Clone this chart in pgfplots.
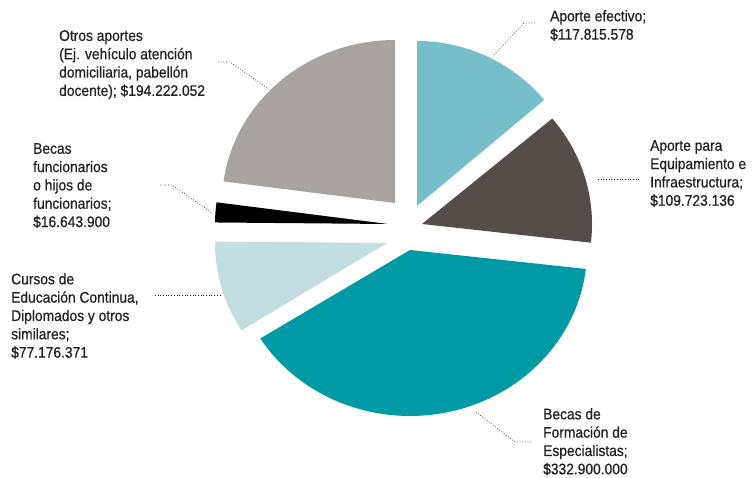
\documentclass[border=0pt]{standalone}
\usepackage{fontspec}
\setmainfont{Liberation Sans}[FakeStretch=0.9, FakeBold=0.6]
\usepackage{pgfplots}
\pgfplotsset{compat=1.18}
\definecolor{cA}{HTML}{76BFC8}
\definecolor{cB}{HTML}{554D4A}
\definecolor{cC}{HTML}{009AA6}
\definecolor{cD}{HTML}{C3DEE2}
\definecolor{cE}{HTML}{000000}
\definecolor{cF}{HTML}{A8A3A0}
\definecolor{txt}{HTML}{231F20}
\newcommand{\lab}{\fontsize{15.4}{18.4}\selectfont\color{txt}}
% values in millions of pesos
\def\vA{117.815578}
\def\vB{109.723136}
\def\vC{332.900000}
\def\vD{77.176371}
\def\vE{16.643900}
\def\vF{194.222052}
\pgfmathsetmacro\T{\vA+\vB+\vC+\vD+\vE+\vF}
\pgfmathsetmacro\aA{90}
\pgfmathsetmacro\aB{\aA-\vA/\T*360}
\pgfmathsetmacro\aC{\aB-\vB/\T*360}
\pgfmathsetmacro\aD{\aC-\vC/\T*360}
\pgfmathsetmacro\aE{\aD-\vD/\T*360}
\pgfmathsetmacro\aF{\aE-\vE/\T*360}
\pgfmathsetmacro\aG{\aF-\vF/\T*360}
\newcommand{\slice}[7]{% color, start, end, cx, cy, rx, ry
  \addplot[fill=#1, draw=none, domain=#3:#2, samples=90, variable=\t]
    ({#4+#6*cos(\t)}, {#5+#7*sin(\t)}) -- (axis cs:#4,#5) -- cycle;
}
\begin{document}
\begin{tikzpicture}
\begin{axis}[hide axis, scale only axis, width=752bp, height=478bp,
  xmin=0, xmax=752, ymin=0, ymax=478, clip=false]
\addplot[draw=none] coordinates {(0,0) (752,478)};
\slice{cA}{\aA}{\aB}{417}{272}{166}{165}
\slice{cB}{\aB}{\aC}{422}{254}{170}{164}
\slice{cC}{\aC}{\aD}{410}{228}{177}{166}
\slice{cD}{\aD}{\aE}{387}{235}{172}{164}
\slice{cE}{\aE}{\aF}{388}{254}{173}{164}
\slice{cF}{\aF}{\aG}{395}{275}{173}{163}
% leader lines
\addplot[dotted, line width=0.7pt, color=txt] coordinates {(494,423) (524,455) (536,455)};
\addplot[dotted, line width=0.7pt, color=txt] coordinates {(598,299) (641,299)};
\addplot[dotted, line width=0.7pt, color=txt] coordinates {(476,66) (515,36) (532,36)};
\addplot[dotted, line width=0.7pt, color=txt] coordinates {(155,183) (220,183)};
\addplot[dotted, line width=0.7pt, color=txt] coordinates {(160,293) (172,293) (212,265)};
\addplot[dotted, line width=0.7pt, color=txt] coordinates {(218,416) (230,416) (270,388)};
% labels
\node[anchor=north west, inner sep=0pt, align=left, font=\lab] at (axis cs:59,448)
  {Otros aportes\\(Ej. vehículo atención\\domiciliaria, pabellón\\docente); \$194.222.052};
\node[anchor=north west, inner sep=0pt, align=left, font=\lab] at (axis cs:33,335)
  {Becas\\funcionarios\\o hijos de\\funcionarios;\\\$16.643.900};
\node[anchor=north west, inner sep=0pt, align=left, font=\lab] at (axis cs:11,205)
  {Cursos de\\Educación Continua,\\Diplomados y otros\\similares;\\\$77.176.371};
\node[anchor=north west, inner sep=0pt, align=left, font=\lab] at (axis cs:550,468)
  {Aporte efectivo;\\\$117.815.578};
\node[anchor=north west, inner sep=0pt, align=left, font=\lab] at (axis cs:650,338)
  {Aporte para\\Equipamiento e\\Infraestructura;\\\$109.723.136};
\node[anchor=north west, inner sep=0pt, align=left, font=\lab] at (axis cs:543,70)
  {Becas de\\Formación de\\Especialistas;\\\$332.900.000};
\end{axis}
\end{tikzpicture}
\end{document}
